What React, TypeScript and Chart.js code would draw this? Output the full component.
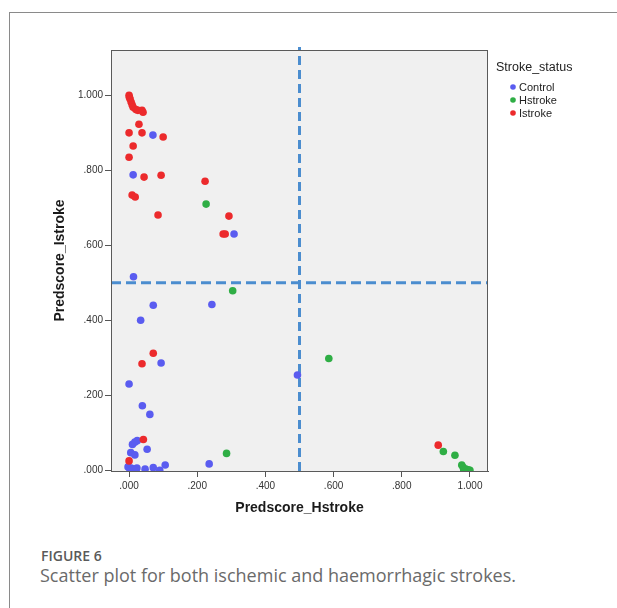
import React, { useEffect, useRef } from "react";
import { Chart, registerables } from "chart.js";

Chart.register(...registerables);

// ---- data ----
const seriesNames = ["Control", "Hstroke", "Istroke"];
const seriesColors = ["#5a5cf0", "#2fae45", "#ec2a2c"];
const legendTitle = "Stroke_status";

const controlX = [0.070, 0.012, 0.308, 0.013, 0.071, 0.243, 0.034, 0.094, 0.494, 0.0, 0.039, 0.061, 0.024, 0.010, 0.017, 0.053, 0.005, 0.017, 0.235, 0.106, -0.003, 0.006, 0.015, 0.023, 0.003, 0.009, 0.020, 0.047, 0.071, 0.090];
const controlY = [0.894, 0.788, 0.630, 0.516, 0.440, 0.442, 0.400, 0.286, 0.254, 0.230, 0.172, 0.149, 0.079, 0.069, 0.075, 0.056, 0.047, 0.041, 0.017, 0.014, 0.009, 0.006, 0.003, 0.006, 0.001, 0.001, 0.001, 0.003, 0.007, 0.0];

const hstrokeX = [0.226, 0.304, 0.286, 0.586, 0.922, 0.956, 0.976, 0.980, 0.988, 0.995, 1.0, 0.982];
const hstrokeY = [0.710, 0.479, 0.045, 0.298, 0.050, 0.040, 0.014, 0.008, 0.003, 0.001, 0.0, 0.001];

const istrokeX = [0.0, 0.001, 0.003, 0.006, 0.009, 0.012, 0.020, 0.026, 0.038, 0.041, 0.029, 0.0, 0.038, 0.100, 0.012, 0.0, 0.044, 0.094, 0.223, 0.009, 0.018, 0.085, 0.293, 0.276, 0.282, 0.071, 0.038, 0.042, 0.0, 0.907];
const istrokeY = [1.0, 0.995, 0.990, 0.982, 0.975, 0.968, 0.962, 0.960, 0.960, 0.955, 0.923, 0.900, 0.900, 0.889, 0.865, 0.835, 0.782, 0.787, 0.771, 0.734, 0.729, 0.681, 0.678, 0.630, 0.630, 0.312, 0.284, 0.082, 0.025, 0.067];

const xTickValues = [0, 0.2, 0.4, 0.6, 0.8, 1.0];
const xTickLabels = [".000", ".200", ".400", ".600", ".800", "1.000"];
const yTickValues = [0, 0.2, 0.4, 0.6, 0.8, 1.0];
const yTickLabels = [".000", ".200", ".400", ".600", ".800", "1.000"];

const xMin = -0.053;
const xMax = 1.053;
const yMin = -0.002;
const yMax = 1.121;
const cutoff = 0.5;

const FAMILY = "'Liberation Sans', Arial, sans-serif";

export default function App() {
  const ref = useRef<HTMLCanvasElement>(null);

  useEffect(() => {
    const canvas = ref.current;
    if (!canvas) return;
    const mk = (xs: number[], ys: number[]) => xs.map((x, i) => ({ x, y: ys[i] }));
    const lineColor = "#4b8dcf";

    const bgPlugin = {
      id: "plotBg",
      beforeDraw(chart: any) {
        const { ctx, chartArea: a } = chart;
        ctx.save();
        ctx.fillStyle = "#f0f0f0";
        ctx.fillRect(a.left, a.top, a.right - a.left, a.bottom - a.top);
        ctx.restore();
      },
      afterDraw(chart: any) {
        const { ctx, chartArea: a } = chart;
        ctx.save();
        ctx.strokeStyle = "#5a5a5a";
        ctx.lineWidth = 1;
        ctx.strokeRect(a.left + 0.5, a.top + 0.5, a.right - a.left - 1, a.bottom - a.top);
        // legend
        ctx.textAlign = "left";
        ctx.textBaseline = "middle";
        ctx.fillStyle = "#222";
        ctx.font = `12.5px ${FAMILY}`;
        ctx.fillText(legendTitle, 496, 68);
        seriesNames.forEach((name, i) => {
          const cy = 87 + i * 13;
          ctx.fillStyle = seriesColors[i];
          ctx.beginPath();
          ctx.arc(513, cy, 2.8, 0, Math.PI * 2);
          ctx.fill();
          ctx.fillStyle = "#222";
          ctx.font = `11px ${FAMILY}`;
          ctx.fillText(name, 519, cy + 0.5);
        });
        ctx.restore();
      },
    };

    const pointDs = (i: number, xs: number[], ys: number[], order: number) => ({
      label: seriesNames[i],
      data: mk(xs, ys),
      backgroundColor: seriesColors[i],
      borderColor: seriesColors[i],
      borderWidth: 0,
      pointRadius: 3.8,
      pointHoverRadius: 3.8,
      order,
      clip: 0,
    });

    const chart = new Chart(canvas, {
      type: "scatter",
      data: {
        datasets: [
          pointDs(0, controlX, controlY, 3),
          pointDs(1, hstrokeX, hstrokeY, 2),
          pointDs(2, istrokeX, istrokeY, 1),
          {
            label: "vref",
            data: [{ x: cutoff, y: yMin }, { x: cutoff, y: yMax + 0.008 }],
            showLine: true,
            borderColor: lineColor,
            borderWidth: 3,
            borderDash: [9, 5],
            pointRadius: 0,
            order: 10,
            clip: false,
          } as any,
          {
            label: "href",
            data: [{ x: xMin, y: cutoff }, { x: xMax, y: cutoff }],
            showLine: true,
            borderColor: lineColor,
            borderWidth: 3,
            borderDash: [10, 5],
            pointRadius: 0,
            order: 10,
            clip: false,
          } as any,
        ],
      },
      options: {
        responsive: false,
        animation: false,
        events: [],
        layout: { padding: { top: 50, right: 129, bottom: 0, left: 0 } },
        plugins: { legend: { display: false }, tooltip: { enabled: false } },
        scales: {
          x: {
            type: "linear",
            position: "bottom",
            min: xMin,
            max: xMax,
            bounds: "data",
            afterBuildTicks: (s: any) => {
              s.ticks = xTickValues.map((value) => ({ value }));
            },
            afterFit: (s: any) => {
              s.height = 59;
            },
            ticks: {
              autoSkip: false,
              maxRotation: 0,
              padding: 3,
              color: "#333",
              font: { family: FAMILY, size: 10 },
              callback: (_v: any, i: number) => xTickLabels[i],
            },
            grid: { drawOnChartArea: false, drawTicks: true, tickLength: 6, color: "#555" },
            border: { display: true, color: "#555" },
            title: {
              display: true,
              text: "Predscore_Hstroke",
              color: "#1a1a1a",
              font: { family: FAMILY, size: 14, weight: "bold" },
              padding: { top: 0, bottom: 13 },
            },
          },
          y: {
            type: "linear",
            position: "left",
            min: yMin,
            max: yMax,
            bounds: "data",
            afterBuildTicks: (s: any) => {
              s.ticks = yTickValues.map((value) => ({ value }));
            },
            afterFit: (s: any) => {
              s.width = 111;
            },
            ticks: {
              autoSkip: false,
              padding: 2,
              color: "#333",
              font: { family: FAMILY, size: 10 },
              callback: (_v: any, i: number) => yTickLabels[i],
            },
            grid: { drawOnChartArea: false, drawTicks: true, tickLength: 6, color: "#555" },
            border: { display: true, color: "#555" },
            title: {
              display: true,
              text: "Predscore_Istroke",
              color: "#1a1a1a",
              font: { family: FAMILY, size: 14, weight: "bold" },
              padding: { top: 52, bottom: 0 },
            },
          },
        },
      } as any,
      plugins: [bgPlugin],
    });
    return () => chart.destroy();
  }, []);

  return (
    <div
      style={{
        position: "absolute",
        left: 0,
        top: 0,
        width: 617,
        height: 608,
        overflow: "hidden",
        background: "#fff",
      }}
    >
      <div
        style={{
          position: "absolute",
          left: 9,
          top: 12,
          width: 640,
          height: 620,
          borderLeft: "1px solid #8a8a8a",
          borderTop: "1px solid #8a8a8a",
        }}
      />
      <canvas
        ref={ref}
        width={617}
        height={530}
        style={{ position: "absolute", left: 0, top: 0, width: 617, height: 530 }}
      />
      <div
        style={{
          position: "absolute",
          left: 41,
          top: 549,
          fontFamily: "'Open Sans', sans-serif",
          fontSize: 14,
          fontWeight: 600,
          lineHeight: 1,
          color: "#5a5a5a",
          whiteSpace: "nowrap",
        }}
      >
        FIGURE 6
      </div>
      <div
        style={{
          position: "absolute",
          left: 40,
          top: 565,
          fontFamily: "'Open Sans', sans-serif",
          fontSize: 18,
          fontWeight: 400,
          lineHeight: 1.2,
          color: "#6a6a6a",
          whiteSpace: "nowrap",
        }}
      >
        Scatter plot for both ischemic and haemorrhagic strokes.
      </div>
    </div>
  );
}
